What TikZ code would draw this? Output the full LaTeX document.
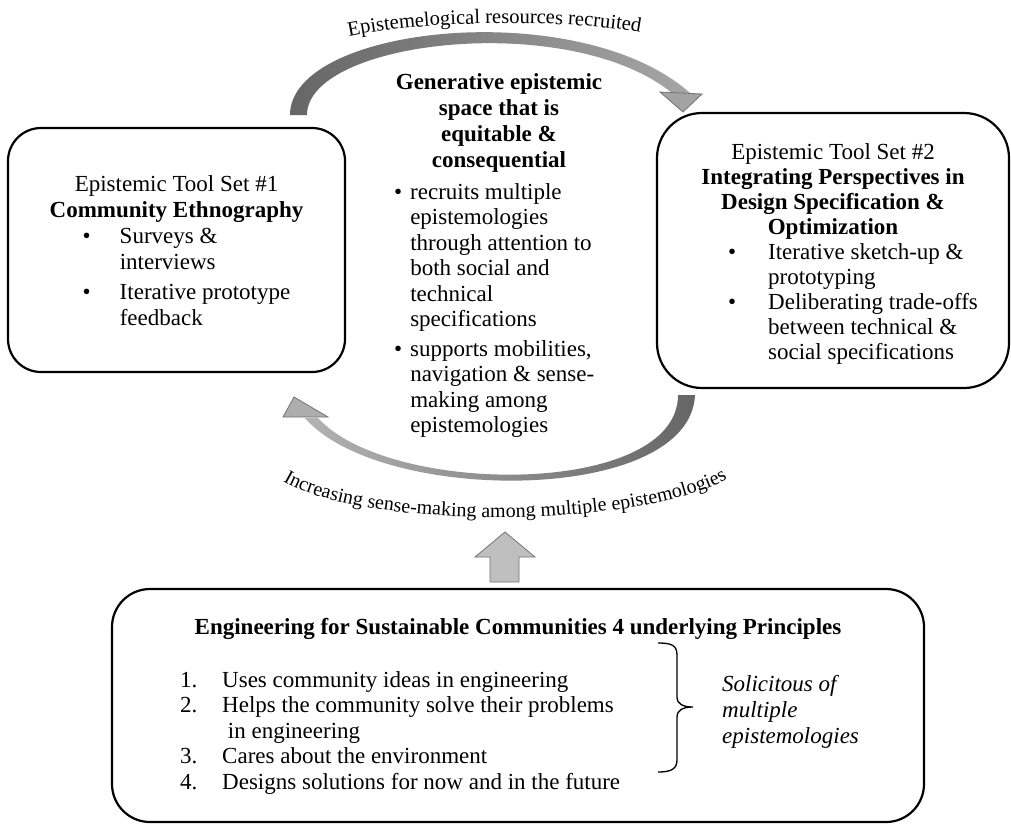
\documentclass[tikz,border=0pt]{standalone}
\usepackage{fontspec}
\setmainfont{Liberation Serif}
\usetikzlibrary{decorations.text}
\tikzset{x=1pt,y=-1pt,
  box/.style={draw,line width=2.2pt,fill=white},
  txt/.style={align=center,inner sep=0pt,font=\fontsize{23}{25.5}\selectfont},
  lbl/.style={decorate,decoration={text along path,text align=center}},
  head/.style={draw=black!55,line width=0.8pt,line join=miter}}

\begin{document}
\begin{tikzpicture}
\useasboundingbox[fill=white] (0,0) rectangle (1011,823);

\node[box,rounded corners=33,minimum width=337,minimum height=244] (one) at (176.5,250) {};
\node[txt,font=\fontsize{23}{26}\selectfont] (onetext) at (176.5,254)
  {Epistemic Tool Set \#1\\ \textbf{Community Ethnography}\\
   \hspace*{20pt}\begin{tabular}[t]{@{}l@{\hspace{29pt}}l@{}}\textbullet&Surveys \&\\ &interviews\\[4pt]
   \textbullet&Iterative prototype\\ &feedback\end{tabular}};
\node[box,rounded corners=45,minimum width=352,minimum height=275] (two) at (833,250.5) {};
\node[txt,font=\fontsize{23}{25}\selectfont] (twotext) at (833,255.5)
  {Epistemic Tool Set \#2\\ \textbf{Integrating Perspectives in}\\ \textbf{Design Specification \&}\\ \textbf{Optimization}\\
   \hspace*{40pt}\begin{tabular}[t]{@{}l@{\hspace{32pt}}l@{}}\textbullet&Iterative sketch-up \&\\ &prototyping\\
   \textbullet&Deliberating trade-offs\\ &between technical \&\\ &social specifications\end{tabular}};
\node[box,rounded corners=38,minimum width=812,minimum height=233] (esc) at (518,705.5) {};

\node[txt,font=\bfseries\fontsize{23}{26}\selectfont] (gen) at (499,123) {Generative epistemic\\ space that is\\ equitable \&\\ consequential};
\node[txt,anchor=north west] (space) at (394,181)
  {\begin{tabular}{@{}l@{\hspace{8pt}}l@{}}\textbullet&recruits multiple\\ &epistemologies\\ &through attention to\\ &both social and\\ &technical\\ &specifications\\[4pt]
   \textbullet&supports mobilities,\\ &navigation \& sense-\\ &making among\\ &epistemologies\end{tabular}};

\node[txt,font=\bfseries\fontsize{23}{26}\selectfont] (princ) at (518,629) {Engineering for Sustainable Communities 4 underlying Principles};
\node[txt,anchor=north west] (list) at (180,669)
  {\begin{tabular}{@{}p{42pt}@{}l@{}}1.&Uses community ideas in engineering\\ 2.&Helps the community solve their problems\\ &\ in engineering\\
   3.&Cares about the environment\\ 4.&Designs solutions for now and in the future\end{tabular}};
\node[txt,anchor=west,align=left,font=\itshape\fontsize{23}{26}\selectfont] (sol) at (722,712) {Solicitous of\\ multiple\\ epistemologies};
\draw[line width=1.3pt] (658,643) .. controls (671,643) and (677,645) .. (677,655) -- (677,697)
  .. controls (677,704) and (683,707) .. (693,707) .. controls (683,707) and (677,710) .. (677,717)
  -- (677,760) .. controls (677,769) and (671,772) .. (658,772);

\shade[left color=black!60,right color=black!35] (290,115) .. controls (290,25) and (580,-5) .. (690,93)
  -- (672,93) .. controls (570,10) and (307,40) .. (307,115) -- cycle;
\draw[head,fill=black!36] (660,92) -- (702,94) -- (683,112) -- cycle;
\path[lbl,decoration={text={|\fontsize{20.5}{22}\selectfont|Epistemelogical resources recruited}}]
  (341,38) .. controls (420,20) and (570,18) .. (648,34);

\shade[left color=black!30,right color=black!60] (695,395) .. controls (690,505) and (380,505) .. (305,418)
  -- (318,418) .. controls (390,497) and (678,497) .. (678,395) -- cycle;
\draw[head,fill=black!32] (283,417) -- (294,397) -- (328,417) -- cycle;
\path[lbl,decoration={text={|\fontsize{20}{22}\selectfont|Increasing sense-making among multiple epistemologies}}]
  (281,480) .. controls (360,530) and (640,530) .. (729,478);

\draw[head,fill=black!25] (490,582) -- (490,557) -- (475,557) -- (505,532) -- (535,557) -- (519,557) -- (519,582) -- cycle;
\end{tikzpicture}
\end{document}
